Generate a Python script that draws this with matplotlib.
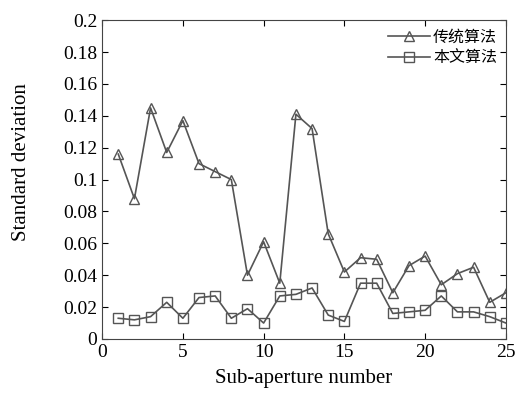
import numpy as np
import matplotlib.pyplot as plt

# Sub-aperture index and standard deviation of both methods
sub_aperture = np.arange(1, 26)
traditional = [0.116, 0.088, 0.145, 0.117, 0.137, 0.110, 0.105, 0.100, 0.040, 0.061,
               0.035, 0.141, 0.132, 0.066, 0.042, 0.051, 0.050, 0.029, 0.046, 0.052,
               0.034, 0.041, 0.045, 0.023, 0.029]
proposed = [0.013, 0.012, 0.014, 0.023, 0.013, 0.026, 0.027, 0.013, 0.019, 0.010,
            0.027, 0.028, 0.032, 0.015, 0.011, 0.035, 0.035, 0.016, 0.017, 0.018,
            0.027, 0.017, 0.017, 0.014, 0.010]
labels = ['传统算法', '本文算法']

plt.rcParams['font.family'] = ['Liberation Serif', 'Noto Sans CJK SC']

fig = plt.figure(figsize=(5.21, 3.96), dpi=100)
ax = fig.add_axes([0.196, 0.144, 0.775, 0.805])

line_color = '#555555'
ax.plot(sub_aperture, traditional, '-^', color=line_color, lw=1.2, ms=6.5,
        mfc='none', mec=line_color, mew=1.0, label=labels[0])
ax.plot(sub_aperture, proposed, '-s', color=line_color, lw=1.2, ms=6.5,
        mfc='none', mec=line_color, mew=1.0, label=labels[1])

ax.set_xlim(0, 25)
ax.set_ylim(0, 0.2)
ax.set_xticks([0, 5, 10, 15, 20, 25])
yt = np.round(np.arange(0, 0.201, 0.02), 2)
ax.set_yticks(yt)
ax.set_yticklabels(['0' if v == 0 else ('%g' % v) for v in yt])
ax.tick_params(direction='in', top=True, right=True, labelsize=14, length=4)
for s in ax.spines.values():
    s.set_color('#444444')

ax.set_xlabel('Sub-aperture number', fontsize=15)
ax.set_ylabel('Standard deviation', fontsize=15)
ax.xaxis.set_label_coords(0.5, -0.095)
ax.yaxis.set_label_coords(-0.175, 0.555)

leg = ax.legend(loc='upper right', frameon=False,
                prop={'family': ['Noto Sans CJK SC'], 'size': 11.5},
                handlelength=2.6, borderaxespad=0.15, labelspacing=0.2,
                handletextpad=0.2)

fig.savefig('out.png', dpi=100)
